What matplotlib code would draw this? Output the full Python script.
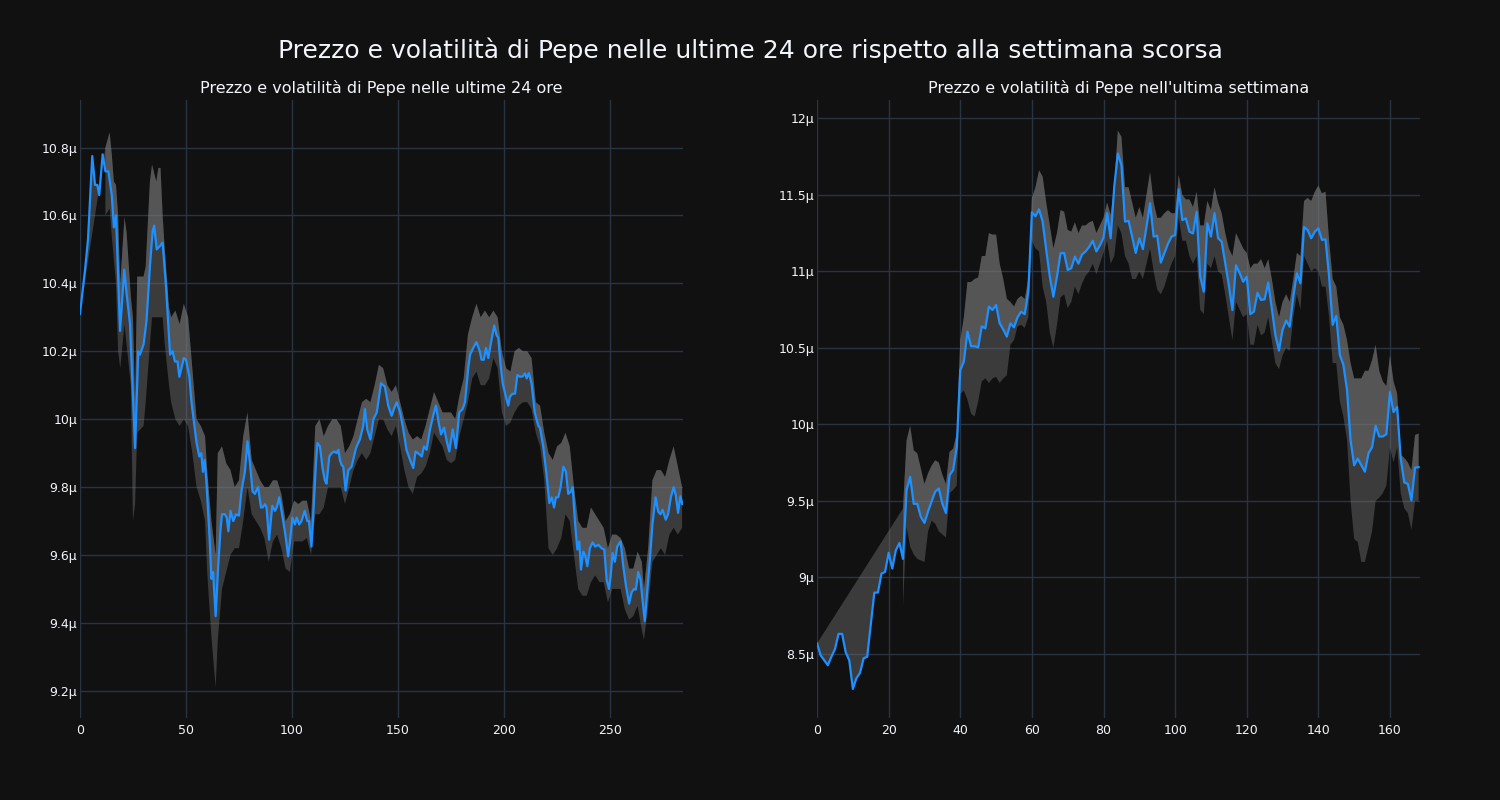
import numpy as np
import matplotlib.pyplot as plt
from matplotlib.ticker import FuncFormatter

# ---- ultime 24 ore (5 min) ----
x24 = [0, 2.4, 3.8, 5.8, 7.1, 8.2, 9.1, 10.7, 12, 13.4, 15, 16, 17, 18.9, 20.9, 22, 23.6, 26,
       27.5, 28.3, 30, 31.4, 33, 34.3, 35, 36.2, 37.7, 39, 40.6, 42.5, 43.7, 44.8, 46, 46.9,
       49, 50, 51.6, 52.6, 55, 56.3, 57.2, 58, 58.8, 59.6, 61.2, 62, 62.8, 64, 65.2, 66.3,
       67, 68.4, 69.2, 70, 71, 72.3, 73.6, 75, 76.2, 77.8, 79, 80.2, 81.4, 82.5, 84, 85.4,
       86.2, 87.3, 88, 89.2, 90.7, 92, 92.8, 94, 95.6, 97, 98.2, 99, 100.2, 101.4, 102.2,
       103.4, 104.5, 106, 107.2, 108, 109.2, 110.3, 111.3, 112, 113.2, 114.4, 115.5, 116.3,
       117.6, 118.7, 120, 121, 121.9, 122.6, 123.4, 124.2, 125.3, 126.6, 128.1, 130.2, 132,
       133.6, 134.4, 135.5, 137, 138.4, 140, 142, 143.8, 145.4, 147, 148.1, 149.4, 151,
       152.5, 154, 155.7, 157.2, 158.3, 160.4, 161.2, 162.3, 163.5, 165.1, 166.7, 167.9,
       169.2, 170.3, 171.7, 173, 174.2, 175.8, 177.3, 178.9, 180.5, 181.6, 183.2, 184,
       185.5, 187, 188.6, 189.4, 190.5, 191.5, 192.6, 193.7, 195.4, 196.5, 197.3, 198.4,
       199.4, 200.9, 202, 202.8, 204, 205.2, 206.3, 207.5, 208.8, 209.9, 210.7, 211.7, 213,
       214.5, 216.2, 217, 218.5, 220, 221.4, 222.5, 223.6, 224.5, 225.6, 226.7, 228, 229.2,
       230.3, 231.6, 232.4, 233.5, 234.6, 235.5, 236.3, 237.4, 238.2, 239.3, 240.5, 241.8,
       243, 244.5, 246, 247.3, 248.4, 249.5, 250.3, 251.2, 252.3, 253.4, 255, 256.2, 257.5,
       259, 260.2, 261.3, 262.2, 263.3, 264.4, 265.3, 266.4, 267.5, 268.8, 270, 271.5,
       272.7, 273.8, 274.8, 276.3, 277.4, 278.7, 280, 281, 282.1, 283.2, 284.1]
prezzo24 = [10.31, 10.44, 10.53, 10.775, 10.69, 10.69, 10.66, 10.78, 10.73, 10.73, 10.66,
            10.565, 10.60, 10.26, 10.44, 10.37, 10.28, 9.915, 10.20, 10.19, 10.22, 10.29,
            10.45, 10.555, 10.57, 10.50, 10.51, 10.52, 10.39, 10.19, 10.20, 10.17, 10.17,
            10.125, 10.18, 10.175, 10.125, 10.05, 9.93, 9.89, 9.90, 9.845, 9.88, 9.82, 9.645,
            9.53, 9.55, 9.42, 9.567, 9.675, 9.72, 9.72, 9.71, 9.67, 9.73, 9.70, 9.72, 9.716,
            9.79, 9.845, 9.935, 9.87, 9.787, 9.78, 9.80, 9.74, 9.74, 9.75, 9.74, 9.645, 9.745,
            9.73, 9.74, 9.77, 9.71, 9.655, 9.596, 9.635, 9.71, 9.69, 9.71, 9.69, 9.70, 9.73,
            9.70, 9.70, 9.625, 9.75, 9.87, 9.93, 9.92, 9.856, 9.82, 9.81, 9.89, 9.90, 9.905,
            9.90, 9.91, 9.88, 9.865, 9.86, 9.79, 9.85, 9.86, 9.915, 9.94, 9.98, 10.03, 9.97,
            9.94, 10.0, 10.02, 10.106, 10.096, 10.04, 10.01, 10.03, 10.05, 10.02, 9.97, 9.91,
            9.88, 9.856, 9.905, 9.895, 9.89, 9.92, 9.91, 9.97, 10.013, 10.04, 9.99, 9.955,
            9.975, 9.935, 9.905, 9.97, 9.915, 10.02, 10.03, 10.05, 10.154, 10.19, 10.21,
            10.227, 10.20, 10.175, 10.175, 10.21, 10.18, 10.22, 10.276, 10.247, 10.24, 10.16,
            10.105, 10.066, 10.04, 10.066, 10.075, 10.075, 10.13, 10.125, 10.126, 10.135,
            10.12, 10.136, 10.105, 10.02, 9.98, 9.974, 9.92, 9.84, 9.753, 9.77, 9.74, 9.77,
            9.77, 9.80, 9.86, 9.846, 9.78, 9.787, 9.80, 9.694, 9.616, 9.64, 9.557, 9.61, 9.60,
            9.567, 9.62, 9.637, 9.625, 9.63, 9.62, 9.616, 9.527, 9.50, 9.537, 9.606, 9.58,
            9.625, 9.64, 9.57, 9.51, 9.457, 9.49, 9.50, 9.498, 9.55, 9.527, 9.47, 9.405, 9.49,
            9.586, 9.69, 9.77, 9.728, 9.72, 9.733, 9.704, 9.72, 9.77, 9.80, 9.777, 9.724,
            9.773, 9.75]

banda24_x = [12, 14, 15, 16, 17, 18, 19, 21, 22, 24, 25, 26, 27, 30, 31, 33, 34, 36, 37, 38,
             39, 40, 42, 43, 45, 47, 49, 51, 53, 55, 57, 59, 60, 62, 64, 65, 67, 69, 71, 73,
             75, 77, 79, 81, 83, 85, 87, 89, 91, 93, 95, 97, 99, 101, 103, 105, 107, 109, 111,
             113, 115, 117, 119, 121, 123, 125, 127, 129, 131, 133, 135, 137, 139, 141, 143,
             145, 147, 149, 151, 153, 155, 157, 159, 161, 163, 165, 167, 169, 171, 173, 175,
             177, 179, 181, 183, 185, 187, 189, 191, 193, 195, 197, 199, 201, 203, 205, 207,
             209, 211, 213, 215, 217, 219, 221, 223, 225, 227, 229, 231, 233, 235, 237, 239,
             241, 243, 245, 247, 249, 251, 253, 255, 257, 259, 261, 263, 265, 266, 268, 270,
             272, 274, 276, 278, 280, 282, 284]
sup24 = [10.80, 10.845, 10.78, 10.70, 10.69, 10.60, 10.40, 10.595, 10.55, 10.36, 10.30, 10.05,
         10.42, 10.42, 10.45, 10.70, 10.75, 10.70, 10.74, 10.74, 10.60, 10.50, 10.33, 10.30,
         10.32, 10.28, 10.34, 10.30, 10.15, 10.00, 9.98, 9.95, 9.85, 9.70, 9.60, 9.90, 9.92,
         9.87, 9.85, 9.80, 9.82, 9.95, 10.02, 9.88, 9.85, 9.82, 9.80, 9.80, 9.82, 9.82, 9.78,
         9.70, 9.72, 9.76, 9.75, 9.76, 9.76, 9.70, 9.98, 10.0, 9.95, 9.98, 10.0, 10.0, 9.98,
         9.90, 9.92, 9.95, 10.0, 10.05, 10.06, 10.05, 10.10, 10.16, 10.15, 10.10, 10.08,
         10.10, 10.05, 10.00, 9.96, 9.94, 9.95, 9.94, 9.98, 10.03, 10.08, 10.05, 10.02, 10.02,
         10.02, 10.0, 10.07, 10.12, 10.25, 10.30, 10.34, 10.30, 10.32, 10.30, 10.32, 10.30,
         10.20, 10.15, 10.14, 10.20, 10.21, 10.20, 10.20, 10.18, 10.05, 10.04, 9.96, 9.90,
         9.88, 9.92, 9.93, 9.96, 9.92, 9.80, 9.70, 9.68, 9.68, 9.74, 9.72, 9.70, 9.68, 9.62,
         9.66, 9.66, 9.65, 9.62, 9.56, 9.56, 9.61, 9.58, 9.50, 9.62, 9.82, 9.85, 9.85, 9.83,
         9.88, 9.92, 9.86, 9.80]
inf24 = [10.60, 10.62, 10.54, 10.47, 10.40, 10.20, 10.15, 10.28, 10.22, 10.10, 9.70, 9.75,
         9.96, 9.98, 10.05, 10.22, 10.30, 10.30, 10.30, 10.30, 10.30, 10.22, 10.10, 10.05,
         10.0, 9.98, 10.0, 9.98, 9.90, 9.80, 9.76, 9.70, 9.55, 9.36, 9.21, 9.35, 9.50, 9.55,
         9.60, 9.62, 9.62, 9.70, 9.80, 9.72, 9.70, 9.68, 9.65, 9.58, 9.64, 9.66, 9.62, 9.56,
         9.55, 9.64, 9.64, 9.64, 9.65, 9.60, 9.72, 9.72, 9.74, 9.80, 9.80, 9.80, 9.80, 9.75,
         9.80, 9.85, 9.88, 9.90, 9.88, 9.90, 9.95, 10.0, 10.0, 9.97, 9.95, 9.98, 9.92, 9.85,
         9.80, 9.78, 9.83, 9.84, 9.86, 9.90, 9.96, 9.94, 9.92, 9.88, 9.87, 9.88, 9.95, 10.0,
         10.05, 10.12, 10.14, 10.10, 10.10, 10.12, 10.18, 10.15, 10.02, 9.98, 9.99, 10.02,
         10.04, 10.05, 10.05, 10.03, 9.96, 9.92, 9.82, 9.62, 9.60, 9.62, 9.65, 9.72, 9.70,
         9.60, 9.50, 9.48, 9.48, 9.52, 9.54, 9.52, 9.52, 9.46, 9.50, 9.50, 9.50, 9.44, 9.41,
         9.42, 9.45, 9.38, 9.35, 9.45, 9.58, 9.60, 9.62, 9.60, 9.66, 9.68, 9.66, 9.68]

# ---- ultima settimana (orario) ----
prezzo7g = [8.567, 8.49, 8.457, 8.425, 8.48, 8.53, 8.63, 8.63, 8.51, 8.457, 8.27, 8.34, 8.375,
            8.47, 8.48, 8.69, 8.90, 8.90, 9.024, 9.035, 9.16, 9.057, 9.176, 9.224, 9.12, 9.57,
            9.656, 9.48, 9.48, 9.394, 9.355, 9.43, 9.497, 9.56, 9.58, 9.48, 9.42, 9.667, 9.70,
            9.85, 10.355, 10.41, 10.606, 10.51, 10.51, 10.503, 10.64, 10.627, 10.77, 10.747,
            10.78, 10.66, 10.62, 10.573, 10.66, 10.634, 10.70, 10.736, 10.72, 10.867, 11.386,
            11.36, 11.405, 11.325, 11.14, 10.965, 10.834, 10.965, 11.118, 11.12, 11.009, 11.02,
            11.096, 11.05, 11.11, 11.13, 11.16, 11.2, 11.13, 11.17, 11.22, 11.38, 11.216,
            11.553, 11.77, 11.695, 11.325, 11.33, 11.227, 11.12, 11.216, 11.145, 11.29, 11.445,
            11.227, 11.233, 11.057, 11.118, 11.18, 11.227, 11.237, 11.536, 11.335, 11.346,
            11.259, 11.248, 11.39, 10.965, 10.867, 11.314, 11.227, 11.38, 11.216, 11.194,
            11.052, 10.91, 10.747, 11.04, 10.99, 10.932, 10.965, 10.72, 10.736, 10.86, 10.813,
            10.817, 10.926, 10.758, 10.584, 10.482, 10.617, 10.678, 10.638, 10.834, 10.987,
            10.922, 11.29, 11.27, 11.216, 11.259, 11.281, 11.205, 11.209, 10.965, 10.65,
            10.709, 10.453, 10.388, 10.224, 9.895, 9.732, 9.776, 9.732, 9.69, 9.81, 9.85, 9.99,
            9.92, 9.92, 9.935, 10.21, 10.08, 10.113, 9.776, 9.62, 9.61, 9.503, 9.717, 9.72]
x7g = np.arange(len(prezzo7g))

banda7g_x = np.arange(24, 169)
sup7g = [9.45, 9.895, 9.99, 9.83, 9.81, 9.71, 9.61, 9.68, 9.73, 9.765, 9.75, 9.67, 9.61, 9.82,
         9.84, 9.94, 10.55, 10.70, 10.93, 10.93, 10.95, 10.96, 11.10, 11.10, 11.25, 11.24,
         11.24, 11.05, 10.95, 10.82, 10.80, 10.77, 10.82, 10.84, 10.82, 10.95, 11.48, 11.55,
         11.66, 11.62, 11.45, 11.30, 11.15, 11.25, 11.40, 11.39, 11.27, 11.26, 11.32, 11.25,
         11.30, 11.30, 11.32, 11.33, 11.25, 11.30, 11.35, 11.45, 11.37, 11.55, 11.92, 11.88,
         11.55, 11.55, 11.45, 11.35, 11.42, 11.35, 11.50, 11.65, 11.45, 11.35, 11.35, 11.38,
         11.40, 11.38, 11.38, 11.63, 11.50, 11.47, 11.47, 11.42, 11.52, 11.30, 11.30, 11.46,
         11.40, 11.55, 11.45, 11.38, 11.25, 11.15, 11.10, 11.25, 11.20, 11.15, 11.12, 11.02,
         11.05, 11.05, 11.08, 11.02, 11.08, 10.95, 10.80, 10.70, 10.80, 10.85, 10.80, 10.95,
         11.12, 11.10, 11.46, 11.48, 11.46, 11.52, 11.56, 11.51, 11.52, 11.20, 10.95, 10.90,
         10.70, 10.65, 10.55, 10.40, 10.30, 10.30, 10.30, 10.35, 10.35, 10.42, 10.52, 10.35,
         10.28, 10.25, 10.45, 10.28, 10.20, 9.80, 9.78, 9.75, 9.70, 9.93, 9.94]
inf7g = [8.81, 9.33, 9.20, 9.15, 9.12, 9.11, 9.10, 9.30, 9.37, 9.35, 9.30, 9.28, 9.26, 9.55,
         9.57, 9.60, 10.20, 10.22, 10.16, 10.07, 10.05, 10.15, 10.28, 10.30, 10.27, 10.30,
         10.31, 10.27, 10.30, 10.32, 10.52, 10.55, 10.64, 10.65, 10.63, 10.70, 11.20, 11.15,
         11.13, 10.90, 10.80, 10.60, 10.50, 10.65, 10.83, 10.85, 10.76, 10.80, 10.90, 10.85,
         10.92, 10.97, 11.00, 11.05, 10.98, 11.05, 11.12, 11.20, 11.05, 11.10, 11.30, 11.25,
         11.10, 11.05, 10.95, 10.95, 11.00, 10.95, 11.05, 11.15, 11.00, 10.88, 10.85, 10.90,
         10.98, 11.05, 11.10, 11.35, 11.20, 11.20, 11.10, 11.05, 11.10, 10.75, 10.72, 11.05,
         11.02, 11.10, 11.00, 10.98, 10.85, 10.70, 10.55, 10.80, 10.75, 10.70, 10.72, 10.52,
         10.52, 10.65, 10.58, 10.60, 10.70, 10.55, 10.40, 10.36, 10.45, 10.50, 10.48, 10.70,
         10.85, 10.75, 11.10, 11.05, 11.00, 11.02, 11.00, 10.90, 10.90, 10.70, 10.40, 10.40,
         10.15, 10.05, 9.90, 9.50, 9.25, 9.23, 9.10, 9.10, 9.20, 9.30, 9.50, 9.52, 9.55, 9.60,
         9.85, 9.75, 9.85, 9.55, 9.45, 9.42, 9.31, 9.50, 9.50]

BG = '#111111'
GRID = '#283442'
TXT = '#f2f5fa'

fig = plt.figure(figsize=(15, 8), dpi=100, facecolor=BG)
ax1 = fig.add_axes([0.0533, 0.1025, 0.402, 0.7725])
ax2 = fig.add_axes([0.5447, 0.1025, 0.402, 0.7725])

fmt = FuncFormatter(lambda v, p: '{:g}µ'.format(round(v, 2)))


def disegna(ax, x, prezzo, bx, sup, inf, titolo):
    x = np.asarray(x, dtype=float)
    prezzo = np.asarray(prezzo)
    bx = np.asarray(bx, dtype=float)
    sup = np.asarray(sup)
    inf = np.asarray(inf)
    # fascia superiore -> prezzo (come il riempimento 'tonexty')
    ax.fill(np.r_[bx, x[::-1]], np.r_[sup, prezzo[::-1]], color='#808080', alpha=0.38, lw=0)
    # fascia inferiore -> superiore
    ax.fill(np.r_[bx, bx[::-1]], np.r_[inf, sup[::-1]], color='#808080', alpha=0.38, lw=0)
    ax.plot(x, prezzo, color='#1e90ff', lw=1.6)
    ax.set_facecolor(BG)
    ax.grid(True, color=GRID, lw=1)
    ax.set_axisbelow(True)
    for s in ax.spines.values():
        s.set_visible(False)
    ax.tick_params(length=0, colors=TXT, labelsize=9, pad=4)
    ax.tick_params(axis='y', pad=2)
    ax.yaxis.set_major_formatter(fmt)
    ax.set_title(titolo, color=TXT, fontsize=11.5, pad=5)


disegna(ax1, x24, prezzo24, banda24_x, sup24, inf24,
        'Prezzo e volatilità di Pepe nelle ultime 24 ore')
ax1.set_xlim(0, 284.4)
ax1.set_ylim(9.12, 10.94)
ax1.set_xticks(np.arange(0, 251, 50))
ax1.set_yticks(np.arange(9.2, 10.81, 0.2))

disegna(ax2, x7g, prezzo7g, banda7g_x, sup7g, inf7g,
        "Prezzo e volatilità di Pepe nell'ultima settimana")
ax2.set_xlim(0, 168.4)
ax2.set_ylim(8.08, 12.12)
ax2.set_xticks(np.arange(0, 161, 20))
ax2.set_yticks(np.arange(8.5, 12.01, 0.5))

fig.suptitle('Prezzo e volatilità di Pepe nelle ultime 24 ore rispetto alla settimana scorsa',
             color=TXT, fontsize=18, y=0.937, va='center')

fig.savefig('out.png', dpi=100, facecolor=BG)
